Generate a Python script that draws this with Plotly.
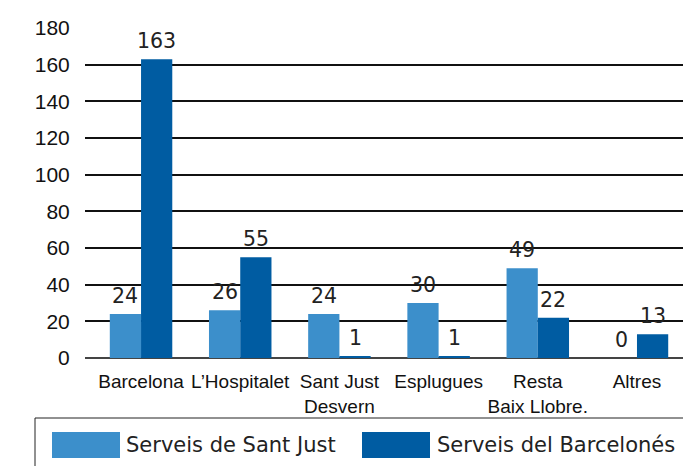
import plotly.graph_objects as go

categories = ["Barcelona", "L’Hospitalet", "Sant Just<br>Desvern", "Esplugues", "Resta<br>Baix Llobre.", "Altres"]
series_names = ["Serveis de Sant Just", "Serveis del Barcelonés"]
sant_just = [24, 26, 24, 30, 49, 0]
barcelones = [163, 55, 1, 1, 22, 13]
y_ticks = [0, 20, 40, 60, 80, 100, 120, 140, 160, 180]

colors = ["#3C8FCB", "#005CA2"]
W, H = 683, 466
L, R, T = 85, 0, 28
B = H - 358
pw, ph = W - L - R, H - T - B
BARGAP = 0.37

def px(x):
    return (x - L) / pw

def py(y):
    return (H - B - y) / ph

fig = go.Figure()
xs = list(range(len(categories)))
for name, vals, c in zip(series_names, [sant_just, barcelones], colors):
    fig.add_trace(go.Bar(
        x=xs, y=vals, name=name,
        marker=dict(color=c, line=dict(width=0)),
        showlegend=False,
    ))

# value labels placed above each bar
bw = (1 - BARGAP) / 2
for s, vals in enumerate([sant_just, barcelones]):
    for i, v in enumerate(vals):
        fig.add_annotation(x=i + (s - 0.5) * bw, y=v, text=str(v), showarrow=False,
                           xanchor="center", yanchor="bottom", yshift=5, borderpad=0,
                           font=dict(family="DejaVu Sans, Verdana", size=20.5, color="#222"))

fig.update_layout(
    width=W, height=H, margin=dict(l=L, r=R, t=T, b=B, autoexpand=False),
    barmode="group", bargap=BARGAP, bargroupgap=0,
    plot_bgcolor="white", paper_bgcolor="white", showlegend=False,
    xaxis=dict(
        tickmode="array", tickvals=xs, ticktext=categories,
        range=[-0.565, 5.464], showgrid=False, zeroline=False, showline=False,
        ticks="outside", ticklen=6, tickcolor="rgba(0,0,0,0)", tickangle=0, automargin=False,
        tickfont=dict(family="Liberation Sans, Arial", size=19, color="#111"),
    ),
    yaxis=dict(
        range=[0, 180], tickvals=y_ticks, showgrid=True, gridcolor="#111", gridwidth=1.5,
        zeroline=True, zerolinecolor="#444", zerolinewidth=2, showline=False,
        ticks="outside", ticklen=10, tickcolor="rgba(0,0,0,0)", automargin=False,
        tickfont=dict(family="Liberation Sans, Arial", size=21, color="#111"),
    ),
)

# legend drawn manually to match the large swatches
fig.add_shape(type="rect", xref="paper", yref="paper",
              x0=px(35), x1=px(700), y0=py(418), y1=py(480),
              line=dict(color="#222", width=1), fillcolor="rgba(0,0,0,0)", layer="above")
sw = [(52, 120, 125), (362, 430, 436)]
for (x0, x1, tx), name, c in zip(sw, series_names, colors):
    fig.add_shape(type="rect", xref="paper", yref="paper",
                  x0=px(x0), x1=px(x1), y0=py(432), y1=py(458),
                  line=dict(width=0), fillcolor=c)
    fig.add_annotation(xref="paper", yref="paper", x=px(tx), y=py(445),
                       text=name, showarrow=False, xanchor="left", yanchor="middle",
                       borderpad=0,
                       font=dict(family="DejaVu Sans, Verdana", size=21, color="#222"))

fig.write_html("out.html", config={"displayModeBar": False},
               post_script="document.body.style.margin='0';document.body.style.overflow='hidden';")
